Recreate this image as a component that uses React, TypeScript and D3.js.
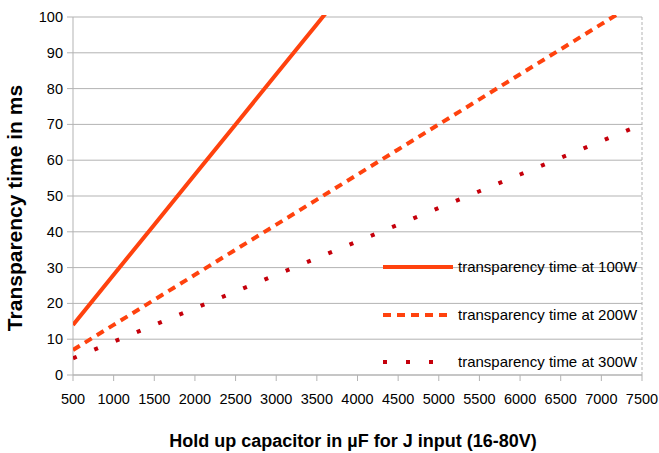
import React from "react";
import * as d3 from "d3";

const capacitance = [500, 1000, 1500, 2000, 2500, 3000, 3500, 4000, 4500, 5000, 5500, 6000, 6500, 7000, 7500];
const time100W = [14, 28, 42, 56, 70, 84, 98, 112, 126, 140, 154, 168, 182, 196, 210];
const time200W = [7, 14, 21, 28, 35, 42, 49, 56, 63, 70, 77, 84, 91, 98, 105];
const time300W = [4.67, 9.33, 14, 18.67, 23.33, 28, 32.67, 37.33, 42, 46.67, 51.33, 56, 60.67, 65.33, 70];
const seriesNames = ["transparency time at 100W", "transparency time at 200W", "transparency time at 300W"];
const xTicks = [500, 1000, 1500, 2000, 2500, 3000, 3500, 4000, 4500, 5000, 5500, 6000, 6500, 7000, 7500];
const yTicks = [0, 10, 20, 30, 40, 50, 60, 70, 80, 90, 100];
const xTitle = "Hold up capacitor in µF for J input (16-80V)";
const yTitle = "Transparency time in ms";

const W = 659, H = 453;
const L = 73, R = 642, T = 17, B = 375;
const FONT = "'Liberation Sans', Arial, sans-serif";

export default function App() {
  const x = d3.scaleLinear().domain([500, 7500]).range([L, R]);
  const y = d3.scaleLinear().domain([0, 100]).range([B, T]);
  const line = d3.line<number>().x((_, i) => x(capacitance[i])).y((d) => y(d));

  const styles = [
    { color: "#ff420e", dash: undefined as string | undefined, data: time100W },
    { color: "#ff420e", dash: "8,6", data: time200W },
    { color: "#c5000b", dash: "4,19", data: time300W },
  ];
  const legendY = [267, 315, 362];

  return (
    <svg width={W} height={H} style={{ position: "absolute", left: 0, top: 0, background: "#fff" }}>
      <defs>
        <clipPath id="plotclip">
          <rect x={L} y={T - 2} width={R - L} height={B - T + 2} />
        </clipPath>
      </defs>
      {yTicks.map((t) => (
        <g key={t}>
          <line x1={L - 6} x2={R} y1={y(t)} y2={y(t)} stroke="#b3b3b3" strokeWidth={1} />
          <text x={63} y={y(t)} dy="0.35em" textAnchor="end" fontFamily={FONT} fontSize={14.5} fill="#000">{t}</text>
        </g>
      ))}
      <line x1={L} x2={L} y1={T} y2={B} stroke="#b3b3b3" />
      <line x1={R} x2={R} y1={T} y2={B} stroke="#b3b3b3" strokeDasharray="3,2" />
      <line x1={L} x2={R} y1={B} y2={B} stroke="#b3b3b3" />
      {xTicks.map((t) => (
        <g key={t}>
          <line x1={x(t)} x2={x(t)} y1={B} y2={B + 6} stroke="#b3b3b3" />
          <text x={x(t)} y={404} textAnchor="middle" fontFamily={FONT} fontSize={14.5} fill="#000">{t}</text>
        </g>
      ))}
      <g clipPath="url(#plotclip)">
        {styles.map((s, i) => (
          <path key={i} d={line(s.data) || ""} fill="none" stroke={s.color} strokeWidth={4} strokeDasharray={s.dash} />
        ))}
      </g>
      {styles.map((s, i) => (
        <g key={i}>
          <line x1={383} x2={i === 2 ? 450 : 453} y1={legendY[i]} y2={legendY[i]} stroke={s.color} strokeWidth={4} strokeDasharray={s.dash} />
          <text x={458} y={legendY[i]} dy="0.35em" fontFamily={FONT} fontSize={15} fill="#000">{seriesNames[i]}</text>
        </g>
      ))}
      <text x={353} y={447} textAnchor="middle" fontFamily={FONT} fontWeight="bold" fontSize={18} fill="#000">{xTitle}</text>
      <text transform={`translate(22, 208) rotate(-90)`} textAnchor="middle" fontFamily={FONT} fontWeight="bold" fontSize={21} fill="#000">{yTitle}</text>
    </svg>
  );
}
